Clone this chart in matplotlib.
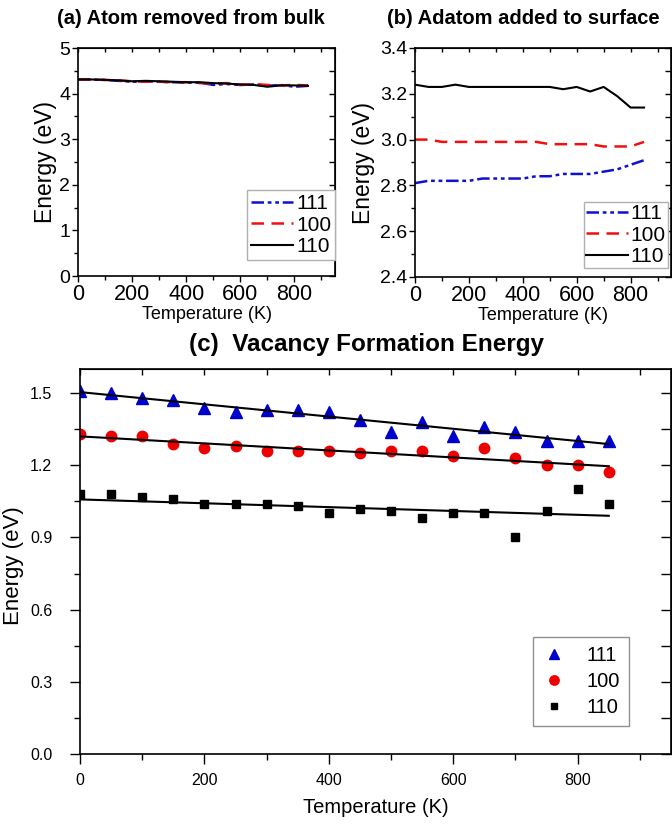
import numpy as np
import matplotlib
matplotlib.use('Agg')
import matplotlib.pyplot as plt
from matplotlib.ticker import MultipleLocator, FormatStrFormatter

plt.rcParams['font.family'] = ['Liberation Sans', 'DejaVu Sans']

# temperature grid for every panel
temp = [0, 50, 100, 150, 200, 250, 300, 350, 400, 450, 500, 550, 600, 650, 700, 750, 800, 850]

# (a) atom removed from bulk
bulk_111 = [4.31, 4.31, 4.30, 4.28, 4.26, 4.27, 4.26, 4.25, 4.24, 4.24, 4.19, 4.21, 4.19, 4.20, 4.17, 4.19, 4.15, 4.17]
bulk_100 = [4.31, 4.31, 4.30, 4.29, 4.27, 4.26, 4.26, 4.25, 4.25, 4.23, 4.22, 4.23, 4.19, 4.21, 4.19, 4.18, 4.19, 4.18]
bulk_110 = [4.31, 4.31, 4.30, 4.29, 4.27, 4.28, 4.27, 4.26, 4.25, 4.25, 4.23, 4.22, 4.20, 4.19, 4.15, 4.18, 4.18, 4.17]

# (b) adatom added to surface
surf_111 = [2.81, 2.82, 2.82, 2.82, 2.82, 2.83, 2.83, 2.83, 2.83, 2.84, 2.84, 2.85, 2.85, 2.85, 2.86, 2.87, 2.89, 2.91]
surf_100 = [3.00, 3.00, 2.99, 2.99, 2.99, 2.99, 2.99, 2.99, 2.99, 2.99, 2.98, 2.98, 2.98, 2.98, 2.97, 2.97, 2.97, 2.99]
surf_110 = [3.24, 3.23, 3.23, 3.24, 3.23, 3.23, 3.23, 3.23, 3.23, 3.23, 3.23, 3.22, 3.23, 3.21, 3.23, 3.19, 3.14, 3.14]

# (c) vacancy formation energy
vac_111 = [1.51, 1.50, 1.48, 1.47, 1.44, 1.42, 1.43, 1.43, 1.42, 1.39, 1.34, 1.38, 1.32, 1.36, 1.34, 1.30, 1.30, 1.30]
vac_100 = [1.33, 1.32, 1.32, 1.29, 1.27, 1.28, 1.26, 1.26, 1.26, 1.25, 1.26, 1.26, 1.24, 1.27, 1.23, 1.20, 1.20, 1.17]
vac_110 = [1.08, 1.08, 1.07, 1.06, 1.04, 1.04, 1.04, 1.03, 1.00, 1.02, 1.01, 0.98, 1.00, 1.00, 0.90, 1.01, 1.10, 1.04]

# linear fits, end points
fit_temp = [0, 850]
fit_111 = [1.504, 1.288]
fit_100 = [1.320, 1.196]
fit_110 = [1.058, 0.990]

labels = ['111', '100', '110']
blue = '#1010d0'
red = '#f01010'

W, H = 672, 824


def rect(x0, y0, x1, y1):
    return [x0 / W, 1 - y1 / H, (x1 - x0) / W, (y1 - y0) / H]


def px(x, y):
    return x / W, 1 - y / H


def set_ticks(ax, xmaj, xmin, ymaj, ymin, lmaj, lmin, xsize, ysize, pad):
    ax.xaxis.set_major_locator(MultipleLocator(xmaj))
    ax.xaxis.set_minor_locator(MultipleLocator(xmin))
    ax.yaxis.set_major_locator(MultipleLocator(ymaj))
    ax.yaxis.set_minor_locator(MultipleLocator(ymin))
    ax.tick_params(which='major', direction='out', length=lmaj, width=1)
    ax.tick_params(which='minor', direction='out', length=lmin, width=1)
    ax.tick_params(axis='x', pad=pad[0], labelsize=xsize)
    ax.tick_params(axis='y', pad=pad[1], labelsize=ysize)
    top = ax.secondary_xaxis('top')
    top.xaxis.set_major_locator(MultipleLocator(xmaj))
    top.xaxis.set_minor_locator(MultipleLocator(xmin))
    top.tick_params(which='both', direction='in', length=lmin, width=1, labeltop=False)
    right = ax.secondary_yaxis('right')
    right.yaxis.set_major_locator(MultipleLocator(ymaj))
    right.yaxis.set_minor_locator(MultipleLocator(ymin))
    right.tick_params(which='both', direction='in', length=lmaj, width=1, labelright=False)
    for s in ax.spines.values():
        s.set_linewidth(1.2)


fig = plt.figure(figsize=(6.72, 8.24), dpi=100)

ax1 = fig.add_axes(rect(78, 48, 335, 276))
ax2 = fig.add_axes(rect(415, 48, 671, 277))
ax3 = fig.add_axes(rect(80, 369, 671, 754))

dashdot = (0, (5, 1.5, 1.5, 1.5, 1.5, 1.5))

# (a)
ax1.plot(temp, bulk_111, color=blue, lw=1.8, ls=dashdot, label=labels[0])
ax1.plot(temp, bulk_100, color=red, lw=1.8, ls=(0, (5, 3)), label=labels[1])
ax1.plot(temp, bulk_110, color='black', lw=1.5, label=labels[2])
ax1.set_xlim(0, 950)
ax1.set_ylim(0, 5)
set_ticks(ax1, 200, 100, 1, 0.5, 4, 3, 15.5, 14, (1.5, 1.5))
ax1.set_xlabel('Temperature (K)', fontsize=13, labelpad=1)
ax1.set_ylabel('Energy (eV)', fontsize=16.5)
ax1.yaxis.set_label_coords(-0.08, 0.5)
ax1.legend(loc='upper left', bbox_to_anchor=px(247, 190), bbox_transform=fig.transFigure,
           borderaxespad=0, fontsize=15, handlelength=2.0, handletextpad=0.15,
           borderpad=0.2, labelspacing=0.12, fancybox=False, framealpha=1,
           edgecolor='#b0b0b0')
fig.text(*px(191, 18), '(a) Atom removed from bulk', fontsize=14.5, fontweight='bold',
         ha='center', va='center')

# (b)
ax2.plot(temp, surf_111, color=blue, lw=1.8, ls=dashdot, label=labels[0])
ax2.plot(temp, surf_100, color=red, lw=1.8, ls=(0, (5, 3)), label=labels[1])
ax2.plot(temp, surf_110, color='black', lw=1.5, label=labels[2])
ax2.set_xlim(0, 950)
ax2.set_ylim(2.4, 3.4)
set_ticks(ax2, 200, 100, 0.2, 0.1, 4, 3, 15.5, 14, (1.5, 1.5))
ax2.yaxis.set_major_formatter(FormatStrFormatter('%.1f'))
ax2.set_xlabel('Temperature (K)', fontsize=13, labelpad=1)
ax2.set_ylabel('Energy (eV)', fontsize=16.5)
ax2.yaxis.set_label_coords(-0.156, 0.5)
ax2.legend(loc='upper left', bbox_to_anchor=px(584, 202), bbox_transform=fig.transFigure,
           borderaxespad=0, fontsize=15, handlelength=2.0, handletextpad=0.15,
           borderpad=0.1, labelspacing=0.12, fancybox=False, framealpha=1,
           edgecolor='#b0b0b0')
fig.text(*px(523, 18), '(b) Adatom added to surface', fontsize=14.5, fontweight='bold',
         ha='center', va='center')

# (c)
ax3.plot(temp, vac_111, ls='none', marker='^', ms=8.5, color='#0000cc', label=labels[0])
ax3.plot(temp, vac_100, ls='none', marker='o', ms=7.5, color='#ee0000', label=labels[1])
ax3.plot(temp, vac_110, ls='none', marker='s', ms=5.5, color='black', label=labels[2])
ax3.plot(fit_temp, fit_111, color='black', lw=1.5)
ax3.plot(fit_temp, fit_100, color='black', lw=1.5)
ax3.plot(fit_temp, fit_110, color='black', lw=1.5)
ax3.set_xlim(0, 950)
ax3.set_ylim(0, 1.6)
set_ticks(ax3, 200, 100, 0.3, 0.15, 7, 4, 11.5, 11.5, (7, 13))
ax3.yaxis.set_major_formatter(FormatStrFormatter('%.1f'))
ax3.set_xlabel('Temperature (K)', fontsize=14.5, labelpad=7)
ax3.set_ylabel('Energy (eV)', fontsize=16)
ax3.yaxis.set_label_coords(-0.094, 0.49)
ax3.legend(loc='upper left', bbox_to_anchor=px(533, 637), bbox_transform=fig.transFigure,
           borderaxespad=0, fontsize=14.5, handlelength=1.2, handletextpad=1.0,
           borderpad=0.45, labelspacing=0.35, fancybox=False, framealpha=1,
           edgecolor='#909090', markerscale=0.9)
fig.text(*px(367, 345), '(c)  Vacancy Formation Energy', fontsize=17.5, fontweight='bold',
         ha='center', va='center')

fig.savefig('out.png', dpi=100)
